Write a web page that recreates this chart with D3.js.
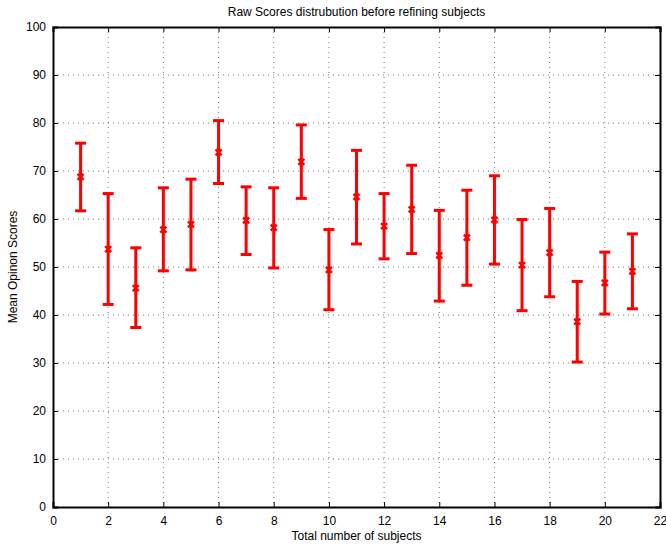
<!DOCTYPE html>
<html>
<head>
<meta charset="utf-8">
<script src="https://cdn.jsdelivr.net/npm/d3@7"></script>
<style>
  body { margin: 0; background: #fff; }
  text { font-family: "Liberation Sans", Arial, sans-serif; }
</style>
</head>
<body>
<div id="chart"></div>
<script>
// subjects and their mean / upper / lower values
var subjects = [1, 2, 3, 4, 5, 6, 7, 8, 9, 10, 11, 12, 13, 14, 15, 16, 17, 18, 19, 20, 21];
var means = [68.8, 53.7, 45.6, 57.8, 58.9, 73.9, 59.7, 58.2, 71.9, 49.4, 64.6, 58.5, 62.0, 52.4, 56.1, 59.8, 50.4, 53.0, 38.6, 46.7, 49.1];
var upper = [75.8, 65.3, 54.0, 66.5, 68.3, 80.5, 66.7, 66.5, 79.6, 57.8, 74.3, 65.3, 71.2, 61.8, 66.0, 69.0, 59.9, 62.2, 47.0, 53.1, 56.9];
var lower = [61.7, 42.2, 37.4, 49.2, 49.4, 67.4, 52.6, 49.8, 64.3, 41.1, 54.8, 51.7, 52.8, 42.9, 46.2, 50.6, 40.9, 43.8, 30.2, 40.2, 41.3];
var xTicks = [0, 2, 4, 6, 8, 10, 12, 14, 16, 18, 20, 22];
var yTicks = [0, 10, 20, 30, 40, 50, 60, 70, 80, 90, 100];

var W = 666, H = 547;
var m = { left: 53, right: 660, top: 27, bottom: 507 };

var svg = d3.select("#chart").append("svg")
  .attr("width", W)
  .attr("height", H);

var x = d3.scaleLinear().domain([0, 22]).range([m.left, m.right]);
var y = d3.scaleLinear().domain([0, 100]).range([m.bottom, m.top]);

// grid
svg.append("g").selectAll("line")
  .data(xTicks.slice(1, -1))
  .enter().append("line")
    .attr("x1", d => x(d)).attr("x2", d => x(d))
    .attr("y1", m.top).attr("y2", m.bottom)
    .attr("stroke", "#555").attr("stroke-width", 0.8)
    .attr("stroke-dasharray", "1,4");

svg.append("g").selectAll("line")
  .data(yTicks.slice(1, -1))
  .enter().append("line")
    .attr("x1", m.left).attr("x2", m.right)
    .attr("y1", d => y(d)).attr("y2", d => y(d))
    .attr("stroke", "#555").attr("stroke-width", 0.8)
    .attr("stroke-dasharray", "1,4");

// axes
var xAxis = svg.append("g")
  .attr("transform", "translate(0," + m.bottom + ")")
  .call(d3.axisBottom(x).tickValues(xTicks).tickSize(-5).tickPadding(9).tickFormat(d3.format("d")));
var yAxis = svg.append("g")
  .attr("transform", "translate(" + m.left + ",0)")
  .call(d3.axisLeft(y).tickValues(yTicks).tickSize(-5).tickPadding(7).tickFormat(d3.format("d")));
var xTop = svg.append("g")
  .attr("transform", "translate(0," + m.top + ")")
  .call(d3.axisTop(x).tickValues(xTicks).tickSize(-5).tickFormat(""));
var yRight = svg.append("g")
  .attr("transform", "translate(" + m.right + ",0)")
  .call(d3.axisRight(y).tickValues(yTicks).tickSize(-5).tickFormat(""));

[xAxis, yAxis, xTop, yRight].forEach(function (g) {
  g.select(".domain").attr("stroke", "#000").attr("stroke-width", 2);
  g.selectAll(".tick line").attr("stroke", "#000").attr("stroke-width", 1);
  g.selectAll("text").attr("font-size", 12).attr("fill", "#000")
    .style("font-family", "'Liberation Sans', Arial, sans-serif");
});

// error bars
var bars = svg.append("g").selectAll("g")
  .data(subjects)
  .enter().append("g");

bars.append("line")
  .attr("x1", d => x(d)).attr("x2", d => x(d))
  .attr("y1", (d, i) => y(upper[i])).attr("y2", (d, i) => y(lower[i]))
  .attr("stroke", "red").attr("stroke-width", 3);

bars.append("line")
  .attr("x1", d => x(d) - 5.5).attr("x2", d => x(d) + 5.5)
  .attr("y1", (d, i) => y(upper[i])).attr("y2", (d, i) => y(upper[i]))
  .attr("stroke", "red").attr("stroke-width", 3);

bars.append("line")
  .attr("x1", d => x(d) - 5.5).attr("x2", d => x(d) + 5.5)
  .attr("y1", (d, i) => y(lower[i])).attr("y2", (d, i) => y(lower[i]))
  .attr("stroke", "red").attr("stroke-width", 3);

// x markers
bars.append("path")
  .attr("d", (d, i) => {
    var cx = x(d), cy = y(means[i]), s = 3;
    return "M" + (cx - s) + "," + (cy - s) + "L" + (cx + s) + "," + (cy + s) +
      "M" + (cx - s) + "," + (cy + s) + "L" + (cx + s) + "," + (cy - s);
  })
  .attr("stroke", "red").attr("stroke-width", 2.5).attr("fill", "none");

// labels
svg.append("text")
  .attr("x", (m.left + m.right) / 2).attr("y", 16)
  .attr("text-anchor", "middle").attr("font-size", 12)
  .text("Raw Scores distrubution before refining subjects");

svg.append("text")
  .attr("x", (m.left + m.right) / 2).attr("y", 540)
  .attr("text-anchor", "middle").attr("font-size", 12)
  .text("Total number of subjects");

svg.append("text")
  .attr("transform", "translate(17," + ((m.top + m.bottom) / 2) + ") rotate(-90)")
  .attr("text-anchor", "middle").attr("font-size", 12)
  .text("Mean Opinon Scores");
</script>
</body>
</html>
